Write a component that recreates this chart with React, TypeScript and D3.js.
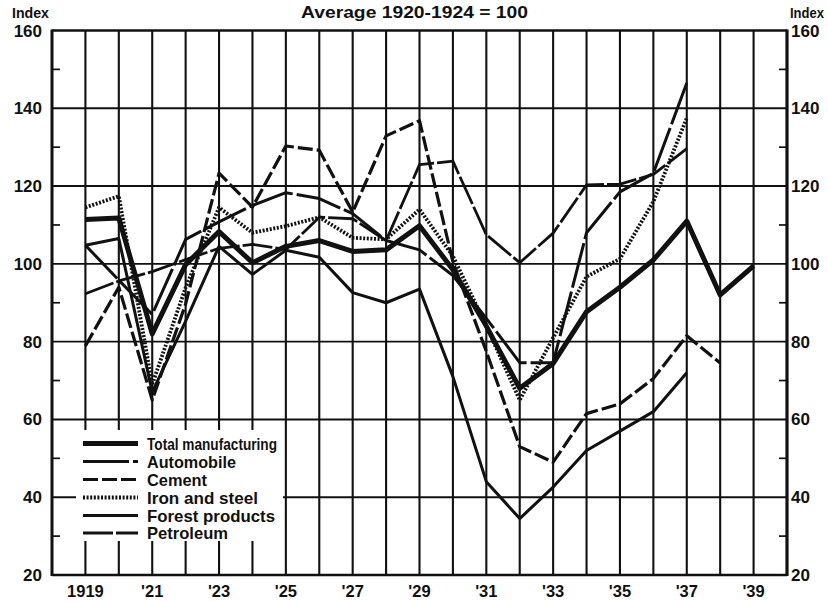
import React from 'react';
import * as d3 from 'd3';

const years = [1919, 1920, 1921, 1922, 1923, 1924, 1925, 1926, 1927, 1928, 1929, 1930, 1931, 1932, 1933, 1934, 1935, 1936, 1937, 1938, 1939];
const totalManufacturing = [111.4, 111.8, 82, 99.8, 108.3, 100.3, 104.5, 106, 103.2, 103.6, 109.8, 98.5, 84, 68, 74.4, 87.7, 94, 101, 111, 92, 99.5];
const automobile = [104.8, 95.8, 87, 106.3, 110.8, 115, 118.3, 116.8, 112.9, 106, 103.6, 97, 86, 74.6, 74.6, 108, 118.5, 123.3, 146.5];
const cement = [78.9, 94, 65, 89.7, 123.3, 114.6, 130.3, 129.2, 113.3, 132.9, 136.8, 100.5, 77.5, 53, 49, 61.5, 64, 70.5, 81.5, 74.5];
const ironAndSteel = [114.5, 117.4, 69, 93.9, 114.5, 108, 109.7, 112, 106.7, 106.3, 114, 102, 84, 65, 81, 96.7, 101.3, 116, 137.5];
const forestProducts = [104.8, 106.5, 67, 85.3, 104.5, 97.3, 103.5, 101.7, 92.6, 90, 93.5, 71, 44, 34.5, 42.6, 52, 57, 62, 72];
const petroleum = [92.3, 95.6, 98, 101.1, 104, 105, 103.7, 112, 111.6, 106, 125.5, 126.4, 107.5, 100.3, 107.9, 120.3, 120.5, 123, 129.6];

const majorTicks = [20, 40, 60, 80, 100, 120, 140, 160];
const minorTicks = [30, 50, 70, 90, 110, 130, 150];
const xLabelYears = [1919, 1921, 1923, 1925, 1927, 1929, 1931, 1933, 1935, 1937, 1939];
const xLabelTexts = ['1919', "'21", "'23", "'25", "'27", "'29", "'31", "'33", "'35", "'37", "'39"];
const seriesNames = ['Total manufacturing', 'Automobile', 'Cement', 'Iron and steel', 'Forest products', 'Petroleum'];
const legendWidths = [130, 89, 60, 111, 128, 81];

const W = 828;
const H = 601;
const L = 52, R = 787, T = 30.5, B = 575;
const INK = '#111';
const FONT = "'Liberation Sans', Arial, sans-serif";

const styles = [
  { w: 5, dash: undefined as string | undefined },
  { w: 3, dash: '46,4' },
  { w: 3.2, dash: '15,4' },
  { w: 3.8, dash: '2,1.6' },
  { w: 3, dash: undefined },
  { w: 2.8, dash: '30,3' },
];

export default function App() {
  const x = d3.scaleLinear().domain([1918, 1940]).range([L, R]);
  const y = d3.scaleLinear().domain([20, 160]).range([B, T]);
  const allSeries = [totalManufacturing, automobile, cement, ironAndSteel, forestProducts, petroleum];
  const line = d3.line<number>().x((_, i) => x(years[i])).y((d) => y(d));
  const legendRowY = [443.5, 461.5, 479.5, 497.5, 515.5, 533];
  const drawOrder = [4, 5, 1, 2, 3, 0];

  return (
    <svg width={W} height={H} style={{ position: 'absolute', left: 0, top: 0, background: '#fff' }} fontFamily={FONT}>
      <rect x={0} y={0} width={W} height={H} fill="#fff" />
      {majorTicks.filter((t) => t > 20 && t < 160).map((t) => (
        <line key={'h' + t} x1={L} x2={R} y1={y(t)} y2={y(t)} stroke={INK} strokeWidth={1.9} />
      ))}
      {years.map((yr) => (
        <line key={'v' + yr} x1={x(yr)} x2={x(yr)} y1={T} y2={B} stroke={INK} strokeWidth={2.1} />
      ))}
      {minorTicks.map((t) => (
        <g key={'m' + t}>
          <line x1={L} x2={L + 8} y1={y(t)} y2={y(t)} stroke={INK} strokeWidth={1.7} />
          <line x1={R - 8} x2={R} y1={y(t)} y2={y(t)} stroke={INK} strokeWidth={1.7} />
        </g>
      ))}
      <rect x={76} y={430} width={207} height={111} fill="#fff" />
      <line x1={L} x2={R} y1={T} y2={T} stroke={INK} strokeWidth={2.6} />
      <line x1={L} x2={R} y1={B} y2={B} stroke={INK} strokeWidth={2.6} />
      <line x1={L} x2={L} y1={T - 1} y2={B + 1} stroke={INK} strokeWidth={3} />
      <line x1={R} x2={R} y1={T - 1} y2={B + 1} stroke={INK} strokeWidth={3.2} />
      {drawOrder.map((si) => (
        <path
          key={'s' + si}
          d={line(allSeries[si]) || ''}
          fill="none"
          stroke={INK}
          strokeWidth={styles[si].w}
          strokeDasharray={styles[si].dash}
          strokeLinejoin="round"
        />
      ))}
      {seriesNames.map((name, i) => (
        <g key={'lg' + i}>
          <line x1={83} x2={138} y1={legendRowY[i]} y2={legendRowY[i]} stroke={INK} strokeWidth={styles[i].w} strokeDasharray={styles[i].dash} />
          <text x={147} y={legendRowY[i] + 6} fontSize={17} fontWeight="bold" fill={INK} textLength={legendWidths[i]} lengthAdjust="spacingAndGlyphs">
            {name}
          </text>
        </g>
      ))}
      {majorTicks.map((t) => (
        <g key={'yl' + t}>
          <text x={42} y={y(t) + 6} textAnchor="end" fontSize={17} fontWeight="bold" fill={INK}>{t}</text>
          <text x={791} y={y(t) + 6} textAnchor="start" fontSize={17} fontWeight="bold" fill={INK}>{t}</text>
        </g>
      ))}
      {xLabelYears.map((yr, i) => (
        <text key={'xl' + yr} x={x(yr)} y={597} textAnchor="middle" fontSize={16.5} fontWeight="bold" fill={INK}>
          {xLabelTexts[i]}
        </text>
      ))}
      <text x={12} y={18} fontSize={14} fontWeight="bold" fill={INK} textLength={37} lengthAdjust="spacingAndGlyphs">Index</text>
      <text x={790} y={18} fontSize={14} fontWeight="bold" fill={INK} textLength={34} lengthAdjust="spacingAndGlyphs">Index</text>
      <text x={301} y={18} fontSize={16.5} fontWeight="bold" fill={INK} textLength={227} lengthAdjust="spacingAndGlyphs">Average 1920-1924 = 100</text>
    </svg>
  );
}
